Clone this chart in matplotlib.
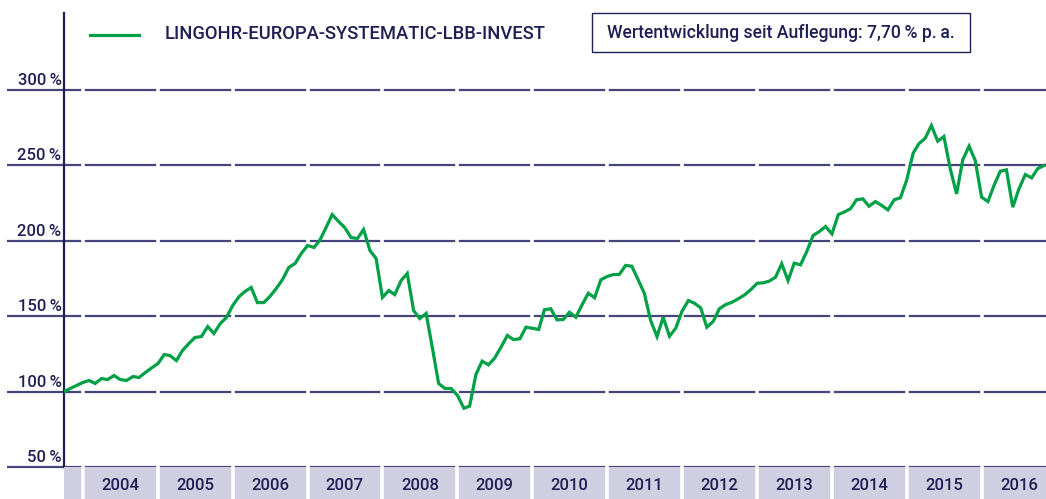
import pandas as pd
import matplotlib
matplotlib.use('Agg')
from matplotlib import pyplot as plt
import matplotlib.transforms as mtransforms

# Werte (in %) monatlich ab Oktober 2003
werte = [
    100.0, 102.0, 104.0, 106.0, 107.3, 105.3, 108.6, 107.9, 110.6, 107.9,
    107.3, 109.9, 109.3, 112.6, 115.6, 118.5, 124.5, 123.8, 120.5, 127.2,
    131.8, 135.8, 136.4, 143.0, 138.4, 145.0, 149.0, 157.0, 162.9, 166.2,
    168.9, 158.9, 158.9, 162.9, 168.2, 174.2, 182.1, 184.8, 191.4, 196.7,
    195.4, 200.0, 208.6, 217.2, 212.6, 208.6, 202.0, 201.3, 207.3, 193.4,
    188.1, 162.3, 166.9, 164.2, 173.5, 178.2, 153.6, 148.3, 151.7, 128.5,
    105.3, 102.0, 102.0, 97.4, 88.9, 90.3, 111.3, 120.1, 117.7, 122.1,
    129.3, 137.1, 134.4, 134.9, 142.6, 141.9, 141.1, 154.1, 154.8, 147.5,
    147.7, 152.5, 149.2, 157.6, 165.1, 162.1, 174.0, 176.2, 177.5, 177.5,
    183.5, 183.0, 174.0, 165.1, 147.0, 136.4, 149.2, 136.6, 141.9, 153.2,
    160.3, 158.5, 155.4, 142.6, 146.4, 154.8, 157.6, 159.1, 161.4, 164.0,
    167.4, 171.7, 172.0, 173.1, 175.7, 184.6, 173.5, 185.0, 183.9, 192.9,
    203.3, 206.0, 209.3, 204.4, 217.2, 218.8, 221.0, 227.0, 227.6, 222.7,
    225.8, 223.2, 220.3, 227.0, 228.3, 240.2, 257.8, 264.1, 267.8, 276.2,
    265.8, 268.9, 247.5, 230.9, 253.5, 262.5, 253.0, 228.7, 225.8, 236.4,
    245.9, 246.8, 222.1, 234.2, 243.7, 241.5, 247.7, 249.7,
]
start = '2003-10-01'
jahre = list(range(2004, 2017))
y_ticks = [50, 100, 150, 200, 250, 300]
y_labels = ['50\u2009%', '100\u2009%', '150\u2009%', '200\u2009%', '250\u2009%', '300\u2009%']
fonds_name = 'LINGOHR-EUROPA-SYSTEMATIC-LBB-INVEST'
info_text = 'Wertentwicklung seit Auflegung: 7,70\u2009% p.\u2009a.'

gruen = '#00a046'
navy = '#1f1f55'
grid_col = '#45457a'
band_col = '#cfcfe1'

plt.rcParams['font.family'] = ['Roboto', 'DejaVu Sans']
plt.rcParams['font.weight'] = 'medium'

datum = pd.date_range(start, periods=len(werte), freq='MS')
x_links = pd.Timestamp('2003-10-01')
x_rechts = pd.Timestamp('2016-11-10')

fig = plt.figure(figsize=(10.46, 4.99), dpi=100)
W, H = 1046, 499
ax = fig.add_axes([64 / W, 32 / H, 982 / W, 454 / H])
band = fig.add_axes([64 / W, 0, 982 / W, 32 / H])

ax.set_xlim(x_links, x_rechts)
ax.set_ylim(50, 350.7)
band.set_xlim(x_links, x_rechts)
band.set_ylim(0, 1)
band.set_facecolor(band_col)
for a in (ax, band):
    a.set_xticks([])
    a.set_yticks([])
    for s in a.spines.values():
        s.set_visible(False)

# Gitterlinien (reichen links über die Achse hinaus)
trans = mtransforms.blended_transform_factory(ax.transAxes, ax.transData)
for v, lab in zip(y_ticks, y_labels):
    ax.plot([-57 / 982, 1], [v, v], color=grid_col, lw=1.6, transform=trans,
            clip_on=False, zorder=1, solid_capstyle='butt')
    ax.text(-2.5 / 982, v + 1.3, lab, transform=trans, ha='right', va='bottom',
            fontsize=12, color=navy)

# weisse Trennungen an den Jahresgrenzen
for j in jahre:
    d = pd.Timestamp(f'{j}-01-01')
    ax.axvline(d, color='white', lw=2.6, zorder=2)
    band.axvline(d, color='white', lw=2.6, zorder=2)

# Jahresbeschriftung
for j in jahre:
    mitte = pd.Timestamp(f'{j}-07-02')
    band.text(mitte, 0.42, str(j), ha='center', va='center', fontsize=12, color=navy)

# y-Achse
ax.plot([0, 0], [0, 1], color=navy, lw=1.6, transform=ax.transAxes, clip_on=False, zorder=4)

# Kurve
ax.plot(datum, werte, color=gruen, lw=2.3, zorder=5, solid_joinstyle='miter')

# Legende
fig.add_artist(plt.Line2D([90 / W, 139 / W], [1 - 35 / H, 1 - 35 / H], color=gruen, lw=2.3))
fig.text(165 / W, 1 - 34 / H, fonds_name, ha='left', va='center', fontsize=13.2, color=navy)

# Kasten mit Wertentwicklung
box = plt.Rectangle((592 / W, 1 - 52 / H), 378 / W, 39 / H, transform=fig.transFigure,
                    facecolor='white', edgecolor=navy, lw=1.0)
fig.add_artist(box)
fig.text(781 / W, 1 - 33 / H, info_text, ha='center', va='center', fontsize=12.7, color=navy)

fig.savefig('out.png', dpi=100)
